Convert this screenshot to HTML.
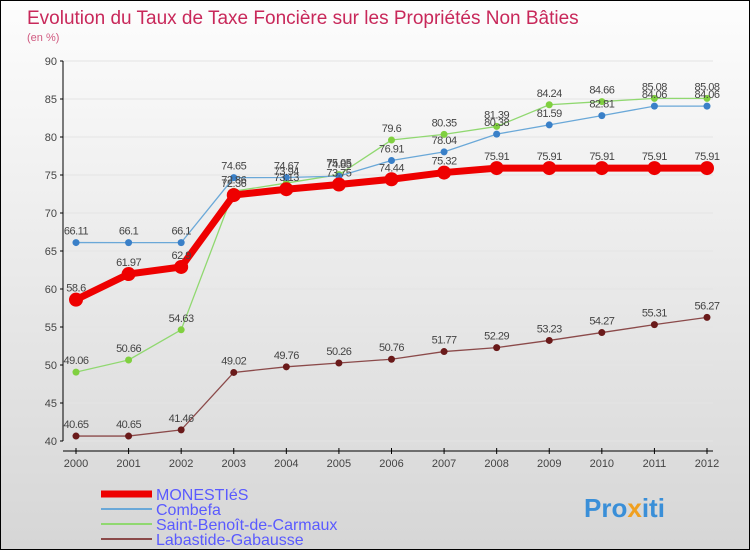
<!DOCTYPE html>
<html><head><meta charset="utf-8">
<style>
html,body{margin:0;padding:0}
body{width:750px;height:550px;overflow:hidden;font-family:"Liberation Sans",sans-serif}
#wrap{position:relative;width:748px;height:548px;border:1px solid #000;background:linear-gradient(#fdfdfd,#d6d6d6)}
svg{position:absolute;left:0;top:0}
</style></head><body>
<div id="wrap">
<svg id="chart" width="750" height="550">
<text x="26" y="23" font-size="19" fill="#c8285a">Evolution du Taux de Taxe Foncière sur les Propriétés Non Bâties</text>
<text x="26" y="40" font-size="11" fill="#d05a80">(en %)</text>
<g id="grid"></g><g id="axes"></g><g id="series"></g><g id="labels"></g><g id="legend"></g>
<text x="583" y="516" font-size="26" font-weight="bold" fill="#3a8fd8">Pro<tspan fill="#f0a020">x</tspan>iti</text>
</svg>
</div>
<script>
const years=[2000,2001,2002,2003,2004,2005,2006,2007,2008,2009,2010,2011,2012];
const yTicks=[40,45,50,55,60,65,70,75,80,85,90];
const monesties=[58.6,61.97,62.9,72.36,73.13,73.75,74.44,75.32,75.91,75.91,75.91,75.91,75.91];
const combefa=[66.11,66.1,66.1,74.65,74.67,74.85,76.91,78.04,80.38,81.59,82.81,84.06,84.06];
const saintBenoit=[49.06,50.66,54.63,72.86,73.94,75.05,79.6,80.35,81.39,84.24,84.66,85.08,85.08];
const labastide=[40.65,40.65,41.46,49.02,49.76,50.26,50.76,51.77,52.29,53.23,54.27,55.31,56.27];
const seriesNames=["MONESTIéS","Combefa","Saint-Benoît-de-Carmaux","Labastide-Gabausse"];
const NS="http://www.w3.org/2000/svg";
const xs=i=>75+i*(706-75)/(years.length-1);
const ys=v=>440-(v-40)*7.6;
function mk(t,a,p){const e=document.createElementNS(NS,t);for(const k in a)e.setAttribute(k,a[k]);p.appendChild(e);return e;}
const grid=document.getElementById('grid'),axes=document.getElementById('axes');
yTicks.forEach(v=>{
 const l=mk('line',{x1:62,x2:712,y1:ys(v),y2:ys(v),stroke:'#e4e4e4'},grid);
 
 
 mk('line',{x1:59,x2:62,y1:ys(v),y2:ys(v),stroke:'#000'},axes);
 const t=mk('text',{x:56,y:ys(v)+4,'font-size':11,fill:'#444','text-anchor':'end'},axes);
 t.textContent=v;
 
 
});
mk('line',{x1:62,x2:62,y1:ys(90),y2:ys(40),stroke:'#000'},axes);
mk('line',{x1:62,x2:712,y1:450,y2:450,stroke:'#000'},axes);
years.forEach((y,i)=>{
 mk('line',{x1:xs(i),x2:xs(i),y1:447,y2:453,stroke:'#000'},axes);
 const t=mk('text',{x:xs(i),y:466,'font-size':11,fill:'#444','text-anchor':'middle'},axes);
 t.textContent=y;
 
 
});
const defs=[
 {d:labastide,c:'#8b4a4a',pc:'#6a1a1a',w:1.3,r:3.5,name:'labastide-series'},
 {d:saintBenoit,c:'#90d870',pc:'#80d040',w:1.3,r:3.5,name:'saint-benoit-series'},
 {d:combefa,c:'#6aa8d8',pc:'#3a80c8',w:1.3,r:3.5,name:'combefa-series'},
 {d:monesties,c:'#ee0000',pc:'#ee0000',w:7,r:7,name:'monesties-series'}];
const sg=document.getElementById('series'),lg=document.getElementById('labels');
defs.forEach(s=>{
 const g=mk('g',{},sg);
 
 
 mk('polyline',{points:s.d.map((v,i)=>xs(i)+','+ys(v)).join(' '),fill:'none',stroke:s.c,'stroke-width':s.w},g);
 s.d.forEach((v,i)=>{
  const c=mk('circle',{cx:xs(i),cy:ys(v),r:s.r,fill:s.pc},g);
  
  
  const t=mk('text',{x:xs(i),y:ys(v)-8,'font-size':11,fill:'#444','text-anchor':'middle','letter-spacing':'-0.5'},lg);
  t.textContent=v;
  
  
 });
});
const lgd=document.getElementById('legend');
const lc=[['#ee0000',7],['#6aa8d8',2],['#90d870',2],['#8b4a4a',2]];
seriesNames.forEach((n,i)=>{
 const y=493+i*15;
 const g=mk('g',{},lgd);
 
 
 mk('line',{x1:100,x2:151,y1:y,y2:y,stroke:lc[i][0],'stroke-width':lc[i][1]},g);
 const t=mk('text',{x:155,y:y+6,'font-size':16,fill:'#5a5aff'},g);
 t.textContent=n;
});
</script>
</body></html>
